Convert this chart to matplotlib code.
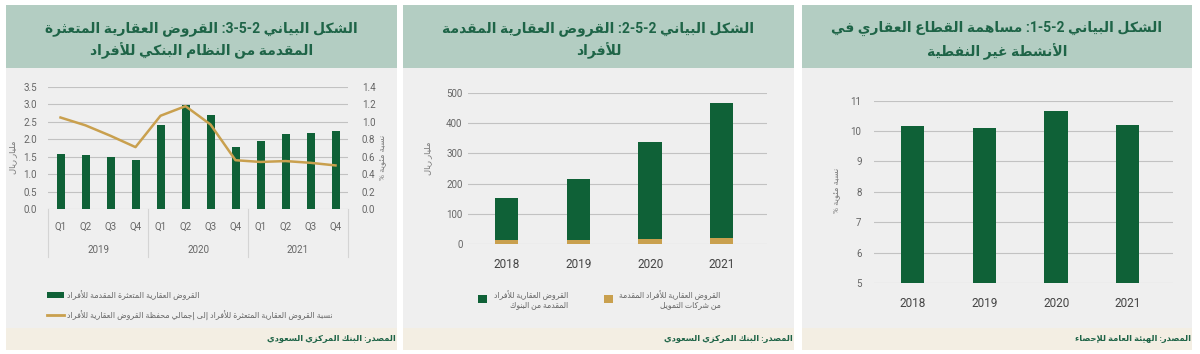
import re

import matplotlib

matplotlib.use("Agg")
import matplotlib.pyplot as plt
from matplotlib.lines import Line2D
from matplotlib.patches import Patch, Rectangle

plt.rcParams["font.family"] = ["Roboto", "DejaVu Sans"]

# ---- data ----
quarters = ["Q1", "Q2", "Q3", "Q4"] * 3
quarter_years = ["2019", "2020", "2021"]
npl_loans = [1.58, 1.55, 1.48, 1.41, 2.42, 2.97, 2.69, 1.77, 1.95, 2.15, 2.18, 2.23]
npl_ratio = [1.05, 0.96, 0.84, 0.71, 1.07, 1.18, 0.97, 0.56, 0.54, 0.55, 0.53, 0.50]

years = ["2018", "2019", "2020", "2021"]
bank_loans = [141, 200, 318, 446]
finco_loans = [12, 14, 18, 21]

re_share = [10.15, 10.09, 10.67, 10.19]

GREEN = "#0f6137"
GOLD = "#c9a04e"
TITLE_C = "#1e6447"
TICK_C = "#666666"
GRID_C = "#c2c2c2"

# ---- minimal arabic shaping + visual reordering (no reshaper lib available) ----
LETTERS = "ءآأؤإئابةتثجحخدذرزسشصضطظعغفقكلمنهوىي"
FORMS = [1] + [2] * 4 + [4, 2, 4, 2] + [4] * 5 + [2] * 4 + [4] * 15 + [2, 2, 4]
SHAPES = {}
_code = 0xFE80
for _ch, _k in zip(LETTERS, FORMS):
    SHAPES[_ch] = (_code, _k)
    _code += _k
LAM_ALEF = {"آ": 0xFEF5, "أ": 0xFEF7, "إ": 0xFEF9, "ا": 0xFEFB}
LTR = re.compile(r"[0-9A-Za-z]+")


def shape(text):
    out = []
    i = 0
    prev_joins = False
    while i < len(text):
        c = text[i]
        nxt = text[i + 1] if i + 1 < len(text) else ""
        if c not in SHAPES:
            out.append(c)
            prev_joins = False
            i += 1
            continue
        if c == "ل" and nxt in LAM_ALEF:
            out.append(chr(LAM_ALEF[nxt] + (1 if prev_joins else 0)))
            prev_joins = False
            i += 2
            continue
        base, k = SHAPES[c]
        next_ok = k == 4 and SHAPES.get(nxt, (0, 0))[1] >= 2
        if k == 1:
            form = 0
        elif prev_joins and next_ok:
            form = 3
        elif prev_joins:
            form = 1
        elif next_ok:
            form = 2
        else:
            form = 0
        out.append(chr(base + form))
        prev_joins = next_ok
        i += 1
    return "".join(out)


def ar(text):
    lines = []
    for line in text.split("\n"):
        s = shape(line)
        parts, pos = [], 0
        for m in LTR.finditer(s):
            parts.append(s[pos:m.start()][::-1])
            parts.append(m.group())
            pos = m.end()
        parts.append(s[pos:][::-1])
        lines.append("".join(reversed(parts)))
    return "\n".join(lines)


# ---- figure / panel backgrounds (pixel layout) ----
W, H = 1200, 354
fig = plt.figure(figsize=(W / 100, H / 100), dpi=100)


def fx(px):
    return px / W


def fy(py):
    return 1 - py / H


def box(x0, x1, y0, y1, color):
    fig.add_artist(Rectangle((fx(x0), fy(y1)), (x1 - x0) / W, (y1 - y0) / H,
                             transform=fig.transFigure, color=color, lw=0, zorder=-5))


panels = [(6, 397), (403, 794), (802, 1192)]
for x0, x1 in panels:
    box(x0, x1, 5, 68, "#b3cdc2")
    box(x0, x1, 68, 328, "#efefef")
    box(x0, x1, 328, 350, "#f3eee3")

titles = [
    "الشكل البياني 2-5-3: القروض العقارية المتعثرة\nالمقدمة من النظام البنكي للأفراد",
    "الشكل البياني 2-5-2: القروض العقارية المقدمة\nللأفراد",
    "الشكل البياني 2-5-1: مساهمة القطاع العقاري في\nالأنشطة غير النفطية",
]
sources = ["المصدر: البنك المركزي السعودي", "المصدر: البنك المركزي السعودي",
           "المصدر: الهيئة العامة للإحصاء"]
for (x0, x1), t, s in zip(panels, titles, sources):
    fig.text(fx((x0 + x1) / 2), fy(40.5), ar(t), ha="center", va="center", fontsize=10,
             fontweight="bold", color=TITLE_C, linespacing=1.5)
    fig.text(fx(x1 - 1), fy(339), ar(s), ha="right", va="center", fontsize=6,
             fontweight="bold", color=TITLE_C)


def style(ax):
    for sp in ax.spines.values():
        sp.set_visible(False)
    ax.set_facecolor("none")
    ax.yaxis.grid(True, color=GRID_C, lw=0.8)
    ax.set_axisbelow(True)


# ---- left: non-performing mortgage loans ----
ax = fig.add_axes([fx(48), fy(209), 300 / W, 122 / H])
style(ax)
x = range(len(npl_loans))
ax.bar(x, npl_loans, width=0.32, color=GREEN, zorder=3)
ax.set_xlim(-0.5, len(npl_loans) - 0.5)
ax.set_ylim(0, 3.5)
ax.set_yticks([i * 0.5 for i in range(8)])
ax.set_yticklabels([f"{i * 0.5:.1f}" for i in range(8)])
ax.set_xticks(list(x), quarters)
ax.tick_params(axis="y", length=0, pad=8, labelsize=7, labelcolor=TICK_C)
ax.tick_params(axis="x", length=0, pad=9, labelsize=7, labelcolor=TICK_C)
for g in range(len(quarter_years) + 1):
    ax.plot([g * 4 - 0.5] * 2, [0, -0.39], transform=ax.get_xaxis_transform(),
            color="#d4d4d4", lw=0.8, clip_on=False)
for g, yr in enumerate(quarter_years):
    ax.text(g * 4 + 1.5, -0.336, yr, transform=ax.get_xaxis_transform(),
            ha="center", va="center", fontsize=7, color=TICK_C)

ax2 = ax.twinx()
for sp in ax2.spines.values():
    sp.set_visible(False)
ax2.plot(x, npl_ratio, color=GOLD, lw=1.8)
ax2.set_ylim(0, 1.4)
ax2.set_yticks([i * 0.2 for i in range(8)])
ax2.set_yticklabels([f"{i * 0.2:.1f}" for i in range(8)])
ax2.tick_params(axis="y", length=0, pad=10, labelsize=7, labelcolor=TICK_C)

fig.text(fx(13), fy(157), ar("مليار ريال"), rotation=90, ha="center", va="center",
         fontsize=6, color="#777777")
fig.text(fx(383), fy(157), ar("نسبة مئوية %"), rotation=90, ha="center", va="center",
         fontsize=6, color="#777777")

fig.legend([Patch(facecolor=GREEN), Line2D([], [], color=GOLD, lw=2)],
           [ar("القروض العقارية المتعثرة المقدمة للأفراد"),
            ar("نسبة القروض العقارية المتعثرة للأفراد إلى إجمالي محفظة القروض العقارية للأفراد")],
           loc="upper left", bbox_to_anchor=(fx(47), fy(290)), frameon=False, fontsize=5.7,
           handlelength=2.2, handleheight=0.8, handletextpad=0.3, labelspacing=1.35,
           borderaxespad=0, borderpad=0, labelcolor=TICK_C)

# ---- middle: mortgage loans to individuals ----
bx = fig.add_axes([fx(468), fy(244), 299 / W, 151.25 / H])
style(bx)
xm = range(len(years))
bx.bar(xm, finco_loans, width=0.325, color=GOLD, zorder=3)
bx.bar(xm, bank_loans, width=0.325, bottom=finco_loans, color=GREEN, zorder=3)
bx.set_xlim(-0.54, 3.63)
bx.set_ylim(0, 500)
bx.set_yticks(range(0, 501, 100))
bx.set_xticks(list(xm), years)
bx.tick_params(axis="y", length=0, pad=4, labelsize=7, labelcolor=TICK_C)
bx.tick_params(axis="x", length=0, pad=10, labelsize=8.5, labelcolor="#444444")
fig.text(fx(428), fy(158), ar("مليار ريال"), rotation=90, ha="center", va="center",
         fontsize=6, color="#777777")
leg = fig.legend([Patch(facecolor=GREEN), Patch(facecolor=GOLD)],
                 [ar("القروض العقارية للأفراد\nالمقدمة من البنوك"),
                  ar("القروض العقارية للأفراد المقدمة\nمن شركات التمويل")],
                 ncol=2, loc="upper left", bbox_to_anchor=(fx(478), fy(290)), frameon=False,
                 fontsize=5.6, handlelength=1.2, handleheight=1.2, handletextpad=0.8,
                 columnspacing=4.6, borderaxespad=0, borderpad=0, labelcolor=TICK_C)
for t in leg.get_texts():
    t.set_multialignment("right")

# ---- right: real estate share of non-oil activities ----
cx = fig.add_axes([fx(874), fy(283), 299 / W, 182.4 / H])
style(cx)
cx.bar(xm, re_share, width=0.325, color=GREEN, zorder=3)
cx.set_xlim(-0.54, 3.63)
cx.set_ylim(5, 11)
cx.set_yticks(range(5, 12))
cx.set_xticks(list(xm), years)
cx.tick_params(axis="y", length=0, pad=9, labelsize=7, labelcolor=TICK_C)
cx.tick_params(axis="x", length=0, pad=10, labelsize=8.5, labelcolor="#444444")
fig.text(fx(837), fy(190), ar("نسبة مئوية %"), rotation=90, ha="center", va="center",
         fontsize=6, color="#777777")

fig.savefig("out.png", dpi=100)
